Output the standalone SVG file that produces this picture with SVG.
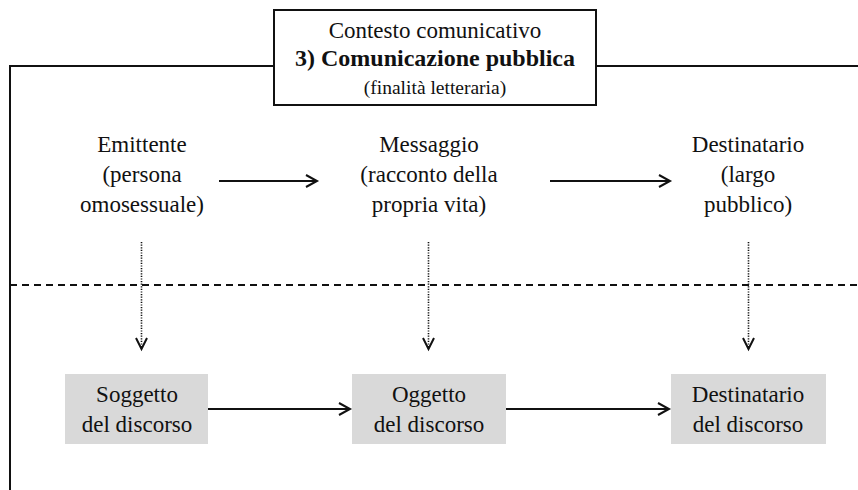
<svg xmlns="http://www.w3.org/2000/svg" width="858" height="490" viewBox="0 0 858 490" font-family="Liberation Serif, Times New Roman, serif">
<style>
.t{font-family:"Liberation Serif","Times New Roman",serif;font-size:23px;fill:#111;text-anchor:middle}
.b{font-size:24px;font-weight:bold}
.s{font-size:19.5px}
.ln{stroke:#111;stroke-width:2;fill:none}
.dot{stroke:#111;stroke-width:1.6;stroke-dasharray:1.2 1.4;fill:none}
.box{fill:#d9d9d9}
</style>
<g id="frame">
<path class="ln" d="M274,66 H10 V490"/>
<path class="ln" d="M596,66 H858"/>
<path class="ln" d="M10,285 H858" stroke-dasharray="7 5"/>
</g>
<g id="context">
<rect x="274" y="10" width="322" height="95" fill="#fff" stroke="#111" stroke-width="2"/>
<text class="t" x="435" y="38" font-family="Liberation Serif">Contesto comunicativo</text>
<text class="t b" x="435" y="66" font-family="Liberation Serif">3) Comunicazione pubblica</text>
<text class="t s" x="435" y="94" font-family="Liberation Serif">(finalità letteraria)</text>
</g>
<g id="emittente">
<text class="t" x="142" y="152" font-family="Liberation Serif">Emittente</text>
<text class="t" x="142" y="182" font-family="Liberation Serif">(persona</text>
<text class="t" x="142" y="212" font-family="Liberation Serif">omosessuale)</text>
</g>
<g id="messaggio">
<text class="t" x="429" y="152" font-family="Liberation Serif">Messaggio</text>
<text class="t" x="429" y="182" font-family="Liberation Serif">(racconto della</text>
<text class="t" x="429" y="212" font-family="Liberation Serif">propria vita)</text>
</g>
<g id="destinatario">
<text class="t" x="748" y="152" font-family="Liberation Serif">Destinatario</text>
<text class="t" x="748" y="182" font-family="Liberation Serif">(largo</text>
<text class="t" x="748" y="212" font-family="Liberation Serif">pubblico)</text>
</g>
<g id="soggetto">
<rect class="box" x="65" y="374" width="143" height="70"/>
<text class="t" x="137" y="402" font-family="Liberation Serif">Soggetto</text>
<text class="t" x="137" y="432" font-family="Liberation Serif">del discorso</text>
</g>
<g id="oggetto">
<rect class="box" x="352" y="374" width="154" height="70"/>
<text class="t" x="429" y="402" font-family="Liberation Serif">Oggetto</text>
<text class="t" x="429" y="432" font-family="Liberation Serif">del discorso</text>
</g>
<g id="destinatario-discorso">
<rect class="box" x="671" y="374" width="155" height="70"/>
<text class="t" x="748" y="402" font-family="Liberation Serif">Destinatario</text>
<text class="t" x="748" y="432" font-family="Liberation Serif">del discorso</text>
</g>
<g id="connectors">
<path class="ln" d="M219,181 H316 M306,175 L317,181 L306,187"/>
<path class="ln" d="M550,181 H669 M659,175 L670,181 L659,187"/>
<path class="dot" d="M141.5,242 V349 M428.5,242 V349 M748.5,242 V349"/>
<path class="ln" d="M136,338 L141.5,349 L147,338 M423,338 L428.5,349 L434,338 M743,338 L748.5,349 L754,338"/>
<path class="ln" d="M208,409 H349 M339,403 L350,409 L339,415"/>
<path class="ln" d="M506,409 H668 M658,403 L669,409 L658,415"/>
</g>
</svg>
